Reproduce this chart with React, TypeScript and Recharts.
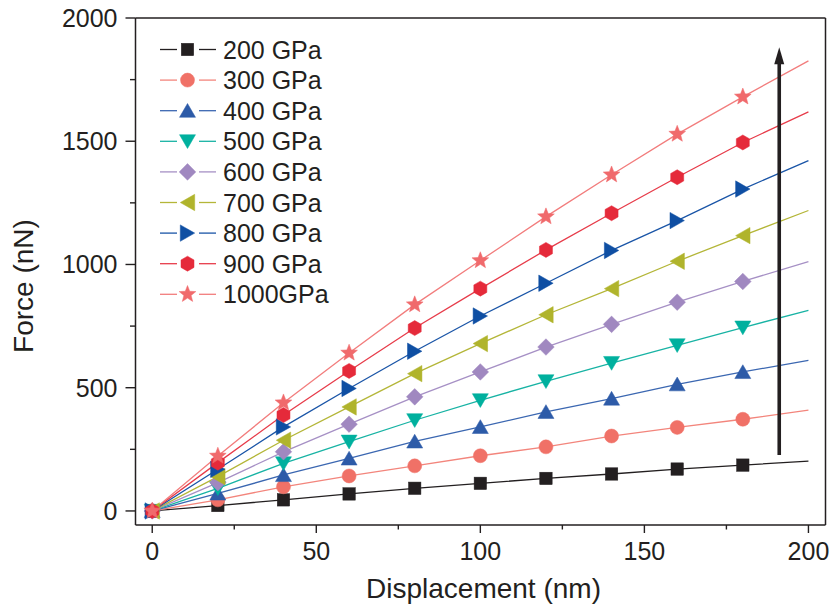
import React from "react";
import { LineChart, Line, XAxis, YAxis, ReferenceLine, Legend } from "recharts";

// ---- data ----
const displacement = [0, 20, 40, 60, 80, 100, 120, 140, 160, 180, 200];
const f200 = [0, 22, 45, 69, 92, 112, 132, 150, 170, 186, 202];
const f300 = [0, 45, 98, 142, 183, 224, 260, 304, 339, 372, 409];
const f400 = [0, 71, 146, 213, 282, 341, 402, 456, 514, 564, 611];
const f500 = [0, 92, 193, 281, 368, 449, 526, 600, 672, 744, 814];
const f600 = [0, 115, 240, 352, 463, 564, 665, 757, 847, 931, 1012];
const f700 = [0, 139, 287, 422, 557, 679, 796, 902, 1013, 1117, 1219];
const f800 = [0, 169, 341, 497, 648, 791, 924, 1057, 1178, 1306, 1421];
const f900 = [0, 196, 389, 568, 742, 902, 1059, 1208, 1354, 1495, 1619];
const f1000 = [0, 223, 439, 641, 837, 1016, 1194, 1364, 1529, 1680, 1826];
const seriesLabels = ["200 GPa", "300 GPa", "400 GPa", "500 GPa", "600 GPa", "700 GPa", "800 GPa", "900 GPa", "1000GPa"];
const xTicks = [0, 25, 50, 75, 100, 125, 150, 175, 200];
const yTicks = [0, 250, 500, 750, 1000, 1250, 1500, 1750, 2000];
const arrowX = 191.1;
const arrowFrom = 227;
const arrowTo = 1881;
const markerlessX = 200;

const FONT = "'Liberation Sans', Arial, Helvetica, sans-serif";
const INK = "#231f20";

type Shape = "square" | "circle" | "up" | "down" | "diamond" | "left" | "right" | "hex" | "star";
const seriesDefs: { key: string; values: number[]; shape: Shape; marker: string; line: string }[] = [
  { key: "s200", values: f200, shape: "square", marker: "#231f20", line: "#231f20" },
  { key: "s300", values: f300, shape: "circle", marker: "#f07167", line: "#f3857c" },
  { key: "s400", values: f400, shape: "up", marker: "#2d5ba8", line: "#3b67b1" },
  { key: "s500", values: f500, shape: "down", marker: "#00b09e", line: "#18b3a4" },
  { key: "s600", values: f600, shape: "diamond", marker: "#a088c0", line: "#a690c5" },
  { key: "s700", values: f700, shape: "left", marker: "#b0b42c", line: "#b4b638" },
  { key: "s800", values: f800, shape: "right", marker: "#0f4fa3", line: "#1a55a7" },
  { key: "s900", values: f900, shape: "hex", marker: "#e52a3a", line: "#e73c4a" },
  { key: "s1000", values: f1000, shape: "star", marker: "#f06a6c", line: "#f27d7d" },
];

const rows = displacement.map((x, i) => {
  const r: Record<string, number> = { x };
  seriesDefs.forEach((s) => (r[s.key] = s.values[i]));
  return r;
});

function marker(shape: Shape, cx: number, cy: number, color: string, key?: string) {
  const p = { fill: color, stroke: color, strokeWidth: 0.5 };
  switch (shape) {
    case "square":
      return <rect key={key} x={cx - 6.2} y={cy - 6.2} width={12.4} height={12.4} {...p} />;
    case "circle":
      return <circle key={key} cx={cx} cy={cy} r={7} {...p} />;
    case "up":
      return <polygon key={key} points={`${cx},${cy - 7.2} ${cx + 8},${cy + 6.6} ${cx - 8},${cy + 6.6}`} {...p} />;
    case "down":
      return <polygon key={key} points={`${cx},${cy + 7.2} ${cx + 8},${cy - 6.6} ${cx - 8},${cy - 6.6}`} {...p} />;
    case "diamond":
      return <polygon key={key} points={`${cx},${cy - 8.3} ${cx + 8.3},${cy} ${cx},${cy + 8.3} ${cx - 8.3},${cy}`} {...p} />;
    case "left":
      return <polygon key={key} points={`${cx - 7.2},${cy} ${cx + 7.2},${cy - 8.2} ${cx + 7.2},${cy + 8.2}`} {...p} />;
    case "right":
      return <polygon key={key} points={`${cx + 7.2},${cy} ${cx - 7.2},${cy - 8.2} ${cx - 7.2},${cy + 8.2}`} {...p} />;
    case "hex": {
      const pts: string[] = [];
      for (let k = 0; k < 6; k++) {
        const a = (Math.PI / 3) * k + Math.PI / 2;
        pts.push(`${cx + 7.5 * Math.cos(a)},${cy - 7.5 * Math.sin(a)}`);
      }
      return <polygon key={key} points={pts.join(" ")} {...p} />;
    }
    case "star": {
      const pts: string[] = [];
      for (let k = 0; k < 10; k++) {
        const rr = k % 2 === 0 ? 8.8 : 3.8;
        const a = (Math.PI / 5) * k + Math.PI / 2;
        pts.push(`${cx + rr * Math.cos(a)},${cy - rr * Math.sin(a)}`);
      }
      return <polygon key={key} points={pts.join(" ")} {...p} />;
    }
  }
  return null;
}

const XTick = (props: any) => {
  const { x, y, payload } = props;
  const v = payload.value as number;
  const major = v % 50 === 0;
  return (
    <g>
      <line x1={x} y1={y} x2={x} y2={y + (major ? 8 : 4.5)} stroke={INK} strokeWidth={1.4} />
      {major && (
        <text x={x} y={y + 35} textAnchor="middle" fontSize={25} fontFamily={FONT} fill={INK}>
          {v}
        </text>
      )}
    </g>
  );
};

const YTick = (props: any) => {
  const { x, y, payload } = props;
  const v = payload.value as number;
  const major = v % 500 === 0;
  return (
    <g>
      <line x1={x} y1={y} x2={x - (major ? 10 : 5.5)} y2={y} stroke={INK} strokeWidth={1.4} />
      {major && (
        <text x={x - 18} y={y + 9} textAnchor="end" fontSize={25} fontFamily={FONT} fill={INK}>
          {v}
        </text>
      )}
    </g>
  );
};

const XTitle = (props: any) => {
  const vb = props.viewBox || {};
  return (
    <text x={vb.x + vb.width / 2 + 3} y={vb.y + 73} textAnchor="middle" fontSize={28} fontFamily={FONT} fill={INK}>
      Displacement (nm)
    </text>
  );
};

const YTitle = () => (
  <text
    x={0}
    y={0}
    transform={`translate(33,286) rotate(-90)`}
    textAnchor="middle"
    fontSize={28}
    fontFamily={FONT}
    fill={INK}
  >
    Force (nN)
  </text>
);

const ArrowShape = (props: any) => {
  const { x1, y1, x2, y2 } = props;
  const top = Math.min(y1, y2);
  const bottom = Math.max(y1, y2);
  const x = x1;
  return (
    <g>
      <line x1={x} y1={bottom} x2={x2} y2={top + 14} stroke={INK} strokeWidth={3.6} />
      <polygon points={`${x},${top} ${x - 5},${top + 17} ${x + 5},${top + 17}`} fill={INK} />
    </g>
  );
};

const LegendBox = () => (
  <svg width={210} height={290} style={{ display: "block" }}>
    {seriesDefs.map((s, i) => {
      const cy = 19.5 + 30.6 * i;
      return (
        <g key={s.key}>
          <line x1={10} y1={cy} x2={27} y2={cy} stroke={s.line} strokeWidth={1.3} />
          <line x1={49} y1={cy} x2={66} y2={cy} stroke={s.line} strokeWidth={1.3} />
          {marker(s.shape, 37.5, cy, s.marker)}
          <text x={73} y={cy + 9} fontSize={25} fontFamily={FONT} fill={INK}>
            {seriesLabels[i]}
          </text>
        </g>
      );
    })}
  </svg>
);

export default function App() {
  return (
    <div style={{ position: "absolute", left: 0, top: 0, width: 831, height: 611, background: "#fff" }}>
      <LineChart width={831} height={611} data={rows} margin={{ top: 18, right: 5.5, bottom: 26, left: 60.5 }}>
        <XAxis
          type="number"
          dataKey="x"
          domain={[-5.1, 205.2]}
          ticks={xTicks}
          allowDataOverflow
          height={60}
          tickSize={0}
          tickMargin={0}
          tickLine={false}
          tick={<XTick />}
          axisLine={{ stroke: INK, strokeWidth: 1.5 }}
          label={<XTitle />}
          interval={0}
        />
        <YAxis
          type="number"
          domain={[-57, 2000]}
          ticks={yTicks}
          allowDataOverflow
          width={75}
          tickSize={0}
          tickMargin={0}
          tickLine={false}
          tick={<YTick />}
          axisLine={{ stroke: INK, strokeWidth: 1.5 }}
          label={<YTitle />}
          interval={0}
        />
        <ReferenceLine y={2000} stroke={INK} strokeWidth={1.5} />
        <ReferenceLine x={205.2} stroke={INK} strokeWidth={1.5} />
        {seriesDefs.map((s, i) => (
          <Line
            key={s.key}
            dataKey={s.key}
            name={seriesLabels[i]}
            stroke={s.line}
            strokeWidth={1.3}
            isAnimationActive={false}
            activeDot={false}
            dot={(p: any) =>
              p.payload && p.payload.x === markerlessX ? (
                <g key={`${s.key}-${p.index}`} />
              ) : (
                marker(s.shape, p.cx, p.cy, s.marker, `${s.key}-${p.index}`)
              )
            }
          />
        ))}
        <ReferenceLine
          segment={[
            { x: arrowX, y: arrowFrom },
            { x: arrowX, y: arrowTo },
          ]}
          shape={<ArrowShape />}
        />
        <Legend
          layout="vertical"
          align="center"
          verticalAlign="middle"
          wrapperStyle={{ left: 150, top: 30, width: 210, height: 290 }}
          content={() => <LegendBox />}
        />
      </LineChart>
    </div>
  );
}
